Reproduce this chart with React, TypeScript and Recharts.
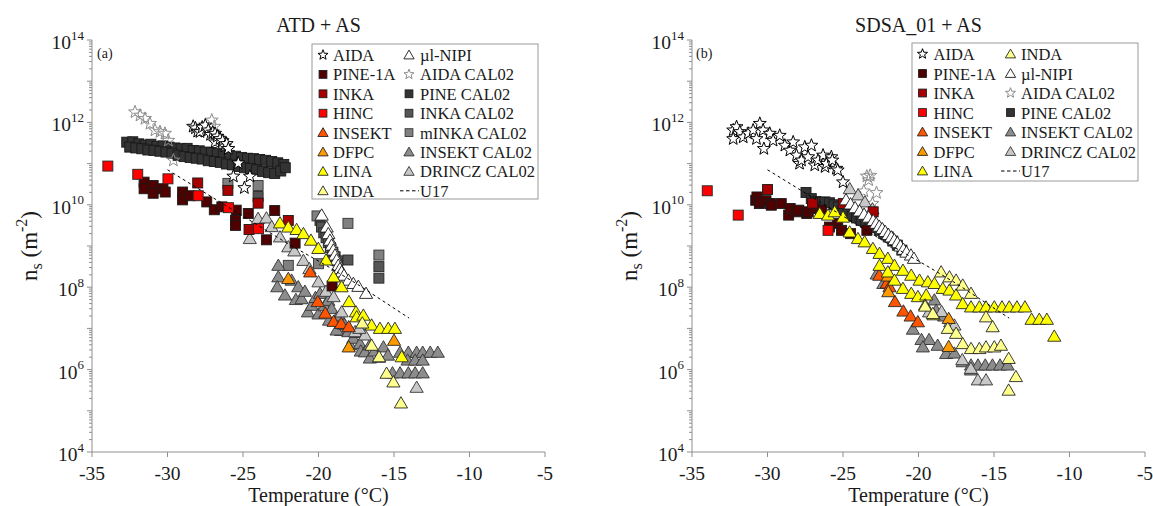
import React from 'react';
import { ScatterChart, Scatter, XAxis, YAxis } from 'recharts';

// [temperature (°C), log10(ns / m^-2)]
type P = [number, number];

// ---------------- Panel (a): ATD + AS ----------------
const aidaA: P[] = [[-28.3,11.90],[-28.15,11.86],[-28.0,11.78],[-27.85,11.77],[-27.7,11.88],[-27.5,11.93],[-27.3,11.81],[-27.15,11.70],[-27.0,11.76],[-26.85,11.73],[-26.85,11.52],[-26.7,11.66],[-26.52,11.60],[-26.35,11.55],[-26.2,11.42],[-26.08,11.48],[-25.97,11.36],[-25.31,11.01],[-25.64,10.69],[-24.91,10.41],[-24.54,10.69]];
const aidaCalA: P[] = [[-32.15,12.25],[-31.82,12.17],[-31.49,12.09],[-31.16,11.97],[-30.83,11.81],[-30.5,11.77],[-30.17,11.73],[-29.95,11.56],[-29.61,11.08],[-27.07,12.05],[-26.9,11.9],[-26.6,11.62]];
const pineCalA: P[] = [[-32.7,11.52],[-32.3,11.53],[-31.9,11.48],[-31.5,11.45],[-31.1,11.47],[-30.7,11.42],[-30.3,11.43],[-29.9,11.40],[-29.5,11.38],[-29.1,11.36],[-28.7,11.37],[-28.3,11.32],[-27.9,11.31],[-27.5,11.28],[-27.1,11.27],[-26.7,11.25],[-26.3,11.22],[-25.9,11.20],[-25.5,11.18],[-25.1,11.15],[-24.7,11.13],[-24.3,11.12],[-23.9,11.10],[-23.5,11.08],[-23.1,11.05],[-22.7,11.02],[-22.3,10.98],[-32.5,11.40],[-32.1,11.38],[-31.7,11.36],[-31.3,11.33],[-30.9,11.32],[-30.5,11.30],[-30.1,11.28],[-29.7,11.25],[-29.3,11.20],[-28.9,11.17],[-28.5,11.15],[-28.1,11.13],[-27.7,11.11],[-27.3,11.07],[-26.9,11.05],[-26.5,11.03],[-26.1,10.99],[-25.7,10.97],[-25.3,10.93],[-24.9,10.90],[-24.5,10.88],[-24.1,10.85],[-23.7,10.81],[-23.3,10.78],[-22.9,10.76],[-22.5,10.82],[-22.2,10.90]];
const inkaCalA: P[] = [[-24.0,10.20],[-19.9,9.62],[-19.8,9.46],[-19.65,9.32],[-19.5,9.20],[-19.35,9.08],[-19.2,8.96],[-19.05,8.85],[-18.9,8.74],[-18.75,8.64],[-18.05,8.66],[-16.0,8.50],[-16.0,8.22]];
const minkaCalA: P[] = [[-26.0,10.52],[-24.0,10.47],[-22.0,8.53],[-20.0,8.57],[-20.1,9.73],[-18.05,9.55],[-16.0,8.78]];
const pine1aA: P[] = [[-31.55,10.55],[-31.55,10.39],[-30.95,10.47],[-30.95,10.28],[-30.3,10.39],[-30.15,10.31],[-29.0,10.31],[-29.0,10.12],[-28.5,10.22],[-27.4,10.07],[-26.9,9.88],[-26.4,9.95],[-25.45,9.87],[-25.5,9.62],[-25.5,9.50],[-24.65,9.79],[-23.45,9.15],[-22.9,9.86],[-21.55,9.07],[-19.1,8.03]];
const inkaA: P[] = [[-28.0,10.53],[-26.0,10.35],[-24.0,10.04],[-22.0,9.62],[-24.6,9.40]];
const hincA: P[] = [[-33.95,10.94],[-31.97,10.74],[-29.97,10.63],[-27.97,10.22],[-25.96,9.93],[-23.97,9.42]];
const drinczCalA: P[] = [[-24.0,9.67],[-23.45,9.68],[-24.55,9.18],[-23.1,9.47],[-22.55,9.22],[-22.0,8.98],[-21.6,8.88],[-21.0,8.65],[-20.6,8.45],[-20.0,8.13],[-19.5,7.90],[-19.0,7.77],[-18.47,7.40],[-17.58,6.92],[-16.92,6.84],[-13.5,5.57],[-17.3,7.00]];
const insektCalA: P[] = [[-22.66,8.53],[-22.66,8.25],[-22.73,8.01],[-22.22,7.81],[-21.78,8.17],[-21.34,8.01],[-21.5,7.70],[-21.12,7.72],[-20.9,7.90],[-20.7,7.40],[-20.45,7.56],[-20.2,7.75],[-20.0,7.35],[-19.9,7.85],[-19.6,7.55],[-19.35,7.68],[-19.3,7.20],[-19.13,7.48],[-18.8,7.25],[-18.6,7.30],[-18.5,6.95],[-18.8,6.96],[-18.3,7.10],[-18.03,6.92],[-17.9,6.60],[-17.7,6.76],[-17.5,6.90],[-17.25,6.63],[-17.2,6.45],[-16.92,6.43],[-16.6,6.60],[-16.6,6.28],[-16.3,6.45],[-16.0,6.30],[-15.7,6.55],[-15.4,6.35],[-14.6,6.42],[-14.05,6.42],[-13.5,6.42],[-13.1,6.42],[-12.6,6.42],[-12.1,6.42],[-14.1,6.23],[-13.6,6.23],[-13.1,6.23],[-15.1,5.92],[-14.6,5.92],[-14.05,5.92],[-13.6,5.92],[-13.1,5.92]];
const nipiA: P[] = [[-19.79,9.75],[-19.46,9.46],[-19.35,9.30],[-19.24,9.14],[-19.13,9.02],[-19.02,8.90],[-18.91,8.78],[-18.8,8.66],[-18.69,8.53],[-18.58,8.45],[-18.47,8.37],[-18.31,8.29],[-18.02,8.17],[-17.69,8.09],[-17.36,8.02],[-16.85,7.85]];
const insektA: P[] = [[-20.55,8.37],[-20.05,7.65],[-19.55,7.37],[-19.0,7.17],[-18.5,7.12],[-18.0,7.04]];
const dfpcA: P[] = [[-22.0,8.21],[-15.0,6.71],[-18.0,6.55]];
const linaA: P[] = [[-22.55,9.56],[-22.0,9.46],[-21.45,9.40],[-21.0,9.30],[-20.5,9.14],[-20.01,8.94],[-19.5,8.66],[-19.0,8.25],[-18.47,8.01],[-17.98,7.65],[-17.52,7.40],[-17.47,7.28],[-17.03,7.32],[-16.48,7.08],[-15.93,7.00],[-15.38,7.00],[-14.94,7.00],[-14.49,6.31]];
const indaA: P[] = [[-17.1,7.13],[-16.48,6.59],[-15.99,6.31],[-15.49,5.91],[-15.04,5.70],[-14.54,5.19]];

// ---------------- Panel (b): SDSA_01 + AS ----------------
const aidaB: P[] = [[-32.27,11.81],[-32.05,11.89],[-31.83,11.77],[-32.27,11.60],[-31.61,11.64],[-31.28,11.73],[-30.95,11.81],[-30.51,11.97],[-30.73,11.60],[-30.24,11.36],[-30.29,11.81],[-29.85,11.73],[-29.63,11.56],[-29.19,11.68],[-28.85,11.44],[-28.52,11.32],[-28.3,11.52],[-28.08,11.20],[-27.88,11.00],[-27.75,11.08],[-27.53,11.40],[-27.31,11.16],[-27.09,11.44],[-26.87,10.96],[-26.65,11.08],[-26.32,11.20],[-26.19,10.92],[-26.1,11.00],[-25.77,11.16],[-25.71,11.08],[-25.44,10.88],[-25.35,10.84],[-25.0,10.55]];
const aidaCalB: P[] = [[-23.42,10.69],[-23.2,10.71],[-23.3,10.60],[-23.62,10.33],[-22.78,10.29],[-23.05,10.03]];
const pineCalB: P[] = [[-27.45,10.30],[-27.1,10.15],[-26.8,10.08],[-26.5,10.06],[-26.2,10.07],[-25.9,10.05],[-25.6,10.00],[-25.3,9.95],[-25.0,9.85],[-24.7,9.78],[-24.4,9.72],[-24.1,9.68],[-23.8,9.62],[-23.5,9.58],[-23.2,9.52],[-22.9,9.45],[-22.6,9.38],[-22.3,9.30],[-22.0,9.22],[-21.7,9.12],[-21.4,9.02],[-21.1,8.90]];
const insektCalB: P[] = [[-22.77,8.32],[-22.33,8.09],[-20.37,6.98],[-19.8,6.73],[-19.3,6.73],[-19.71,6.55],[-18.73,6.59],[-18.17,6.39],[-17.62,6.40],[-17.07,6.19],[-16.52,6.11],[-16.06,6.11],[-15.58,6.11],[-15.1,6.11],[-14.6,6.11],[-14.1,6.11],[-16.52,5.99],[-18.95,7.69],[-18.83,7.44],[-18.3,7.30]];
const drinczCalB: P[] = [[-24.55,10.39],[-24.0,10.24],[-23.55,10.07],[-23.05,9.90],[-19.3,7.40],[-18.47,7.41],[-17.9,7.16],[-17.62,7.08],[-17.1,6.24],[-16.53,6.03],[-16.07,5.75],[-15.53,5.75]];
const pine1aB: P[] = [[-30.78,10.11],[-30.7,10.19],[-30.54,10.03],[-30.5,10.07],[-30.1,10.10],[-29.81,10.03],[-29.75,9.99],[-29.09,10.03],[-28.6,9.75],[-28.5,9.91],[-28.08,9.83],[-27.93,9.87],[-27.4,9.79],[-27.3,9.83],[-26.9,9.91],[-26.5,9.83],[-26.43,9.87],[-25.9,9.46],[-25.35,9.55],[-25.1,9.38],[-24.5,9.30],[-23.42,9.38]];
const inkaB: P[] = [[-30.0,10.37],[-27.02,10.04],[-24.98,10.03],[-23.0,9.83]];
const hincB: P[] = [[-33.99,10.34],[-31.94,9.75],[-25.99,9.38]];
const nipiB: P[] = [[-24.8,10.12],[-24.5,10.02],[-24.2,9.93],[-23.9,9.85],[-23.6,9.77],[-23.3,9.70],[-23.0,9.62],[-22.8,9.55],[-22.6,9.48],[-22.4,9.42],[-22.2,9.35],[-22.0,9.28],[-21.8,9.22],[-21.6,9.15],[-21.4,9.08],[-21.2,9.00],[-21.0,8.92],[-20.8,8.85],[-20.5,8.78],[-20.3,8.70]];
const insektB: P[] = [[-22.6,8.29],[-22.1,8.10],[-21.92,8.01],[-21.56,7.65],[-21.0,7.42],[-20.52,7.30],[-20.04,7.16]];
const dfpcB: P[] = [[-22.03,8.27],[-22.0,7.89],[-18.0,7.24],[-18.0,6.56]];
const linaB: P[] = [[-26.54,9.79],[-25.99,9.75],[-25.55,9.83],[-25.0,9.70],[-24.56,9.34],[-24.01,9.18],[-23.57,9.10],[-23.02,8.94],[-22.58,8.82],[-22.03,8.70],[-21.59,8.53],[-21.03,8.41],[-20.48,8.29],[-19.93,8.17],[-19.38,8.13],[-18.94,8.09],[-18.39,7.97],[-17.95,7.93],[-17.51,7.81],[-17.07,7.60],[-16.52,7.52],[-15.97,7.52],[-15.53,7.52],[-14.98,7.52],[-14.47,7.52],[-13.99,7.52],[-13.48,7.52],[-12.95,7.52],[-12.51,7.22],[-12.0,7.22],[-11.5,7.22],[-11.01,6.81],[-22.58,8.53],[-22.03,8.37],[-21.59,8.17],[-21.03,7.97],[-20.48,7.85],[-20.04,7.77],[-19.49,7.81],[-19.56,7.57],[-19.0,7.33]];
const indaB: P[] = [[-18.5,8.37],[-17.95,8.25],[-17.51,8.17],[-17.07,8.05],[-16.52,7.85],[-15.53,7.28],[-15.09,7.04],[-19.56,7.54],[-19.05,7.36],[-18.06,7.00],[-17.51,6.88],[-17.07,6.63],[-16.52,6.51],[-15.97,6.51],[-15.53,6.55],[-14.98,6.55],[-14.54,6.59],[-14.03,6.27],[-13.55,5.83],[-14.03,5.50]];

// U17 parameterisation (dashed line, same in both panels)
const u17: P[] = [[-30.0,10.85],[-26.0,9.95],[-22.0,9.05],[-19.5,8.53],[-17.5,8.09],[-14.0,7.25]];

// ---------------- Axes ----------------
const X_TICKS = [-35, -30, -25, -20, -15, -10, -5];
const Y_DOMAIN: [number, number] = [1e4, 1e14];
const Y_LABEL_EXPS = [4, 6, 8, 10, 12, 14];
const Y_TICKS: number[] = [];
for (let e = 4; e < 14; e++) for (let m = 1; m <= 9; m++) Y_TICKS.push(m * Math.pow(10, e));
Y_TICKS.push(1e14);

const SERIF = "'Liberation Serif', 'Times New Roman', 'DejaVu Serif', serif";
const TXT: React.CSSProperties = { fontFamily: SERIF };
const AXIS_COLOR = '#8f8f8f';
const TEXT_COLOR = '#1a1a1a';

type Kind = 'star' | 'square' | 'tri' | 'line';
interface Sty { name: string; kind: Kind; fill: string; stroke: string }

const ST: Record<string, Sty> = {
  aida: { name: 'AIDA', kind: 'star', fill: '#ffffff', stroke: '#000000' },
  pine1a: { name: 'PINE-1A', kind: 'square', fill: '#4f0000', stroke: '#1a1a1a' },
  inka: { name: 'INKA', kind: 'square', fill: '#a80000', stroke: '#1a1a1a' },
  hinc: { name: 'HINC', kind: 'square', fill: '#ff0000', stroke: '#262626' },
  insekt: { name: 'INSEKT', kind: 'tri', fill: '#ff5500', stroke: '#262626' },
  dfpc: { name: 'DFPC', kind: 'tri', fill: '#ff9900', stroke: '#262626' },
  lina: { name: 'LINA', kind: 'tri', fill: '#ffff00', stroke: '#262626' },
  inda: { name: 'INDA', kind: 'tri', fill: '#ffff8c', stroke: '#262626' },
  nipi: { name: 'µl-NIPI', kind: 'tri', fill: '#ffffff', stroke: '#1a1a1a' },
  aidaCal: { name: 'AIDA CAL02', kind: 'star', fill: 'none', stroke: '#8c8c8c' },
  pineCal: { name: 'PINE CAL02', kind: 'square', fill: '#333333', stroke: '#1a1a1a' },
  inkaCal: { name: 'INKA CAL02', kind: 'square', fill: '#555555', stroke: '#262626' },
  minkaCal: { name: 'mINKA CAL02', kind: 'square', fill: '#808080', stroke: '#333333' },
  insektCal: { name: 'INSEKT CAL02', kind: 'tri', fill: '#8c8c8c', stroke: '#333333' },
  drinczCal: { name: 'DRINCZ CAL02', kind: 'tri', fill: '#c8c8c8', stroke: '#333333' },
  u17: { name: 'U17', kind: 'line', fill: 'none', stroke: '#000000' },
};

function starPath(x: number, y: number, R: number) {
  const r = R * 0.42;
  let d = '';
  for (let i = 0; i < 10; i++) {
    const a = -Math.PI / 2 + (i * Math.PI) / 5;
    const rad = i % 2 === 0 ? R : r;
    d += (i === 0 ? 'M' : 'L') + (x + rad * Math.cos(a)).toFixed(2) + ',' + (y + rad * Math.sin(a)).toFixed(2);
  }
  return d + 'Z';
}

function Glyph({ sty, x, y, s = 1 }: { sty: Sty; x: number; y: number; s?: number }) {
  if (sty.kind === 'square') {
    const h = 5 * s;
    return <rect x={x - h} y={y - h} width={2 * h} height={2 * h} fill={sty.fill} stroke={sty.stroke} strokeWidth={0.9} />;
  }
  if (sty.kind === 'tri') {
    const w = 6.6 * s, t = 6.3 * s, b = 5 * s;
    return <path d={`M${x},${y - t}L${x + w},${y + b}L${x - w},${y + b}Z`} fill={sty.fill} stroke={sty.stroke} strokeWidth={0.9} />;
  }
  if (sty.kind === 'star') {
    return <path d={starPath(x, y, 6.8 * s)} fill={sty.fill} stroke={sty.stroke} strokeWidth={1} />;
  }
  return <line x1={x - 9 * s} x2={x + 9 * s} y1={y} y2={y} stroke={sty.stroke} strokeWidth={1} strokeDasharray="3 2.5" />;
}

const shapeFor = (sty: Sty) => (props: any) => {
  const { cx, cy } = props;
  if (cx == null || cy == null) return <g />;
  return <Glyph sty={sty} x={cx} y={cy} />;
};
const noShape = () => <g />;

const toData = (pts: P[]) => pts.map(([t, lg]) => ({ t, ns: Math.pow(10, lg) }));

interface Series { sty: Sty; pts: P[] }

const seriesA: Series[] = [
  { sty: ST.pineCal, pts: pineCalA },
  { sty: ST.aidaCal, pts: aidaCalA },
  { sty: ST.inkaCal, pts: inkaCalA },
  { sty: ST.minkaCal, pts: minkaCalA },
  { sty: ST.insektCal, pts: insektCalA },
  { sty: ST.drinczCal, pts: drinczCalA },
  { sty: ST.pine1a, pts: pine1aA },
  { sty: ST.inka, pts: inkaA },
  { sty: ST.hinc, pts: hincA },
  { sty: ST.nipi, pts: nipiA },
  { sty: ST.insekt, pts: insektA },
  { sty: ST.dfpc, pts: dfpcA },
  { sty: ST.lina, pts: linaA },
  { sty: ST.inda, pts: indaA },
  { sty: ST.aida, pts: aidaA },
];
const seriesB: Series[] = [
  { sty: ST.pineCal, pts: pineCalB },
  { sty: ST.aidaCal, pts: aidaCalB },
  { sty: ST.insektCal, pts: insektCalB },
  { sty: ST.drinczCal, pts: drinczCalB },
  { sty: ST.pine1a, pts: pine1aB },
  { sty: ST.inka, pts: inkaB },
  { sty: ST.hinc, pts: hincB },
  { sty: ST.nipi, pts: nipiB },
  { sty: ST.insekt, pts: insektB },
  { sty: ST.dfpc, pts: dfpcB },
  { sty: ST.lina, pts: linaB },
  { sty: ST.inda, pts: indaB },
  { sty: ST.aida, pts: aidaB },
];

const legendA: [Sty[], Sty[]] = [
  [ST.aida, ST.pine1a, ST.inka, ST.hinc, ST.insekt, ST.dfpc, ST.lina, ST.inda],
  [ST.nipi, ST.aidaCal, ST.pineCal, ST.inkaCal, ST.minkaCal, ST.insektCal, ST.drinczCal, ST.u17],
];
const legendB: [Sty[], Sty[]] = [
  [ST.aida, ST.pine1a, ST.inka, ST.hinc, ST.insekt, ST.dfpc, ST.lina],
  [ST.inda, ST.nipi, ST.aidaCal, ST.pineCal, ST.insektCal, ST.drinczCal, ST.u17],
];

const PLOT_LEFT = 92;
const PLOT_TOP = 40;
const PLOT_BOTTOM = 452;
const CHART_H = 506;

function Panel({ left, width, marginRight, series }: { left: number; width: number; marginRight: number; series: Series[] }) {
  const plotRight = width - marginRight;
  const xTick = (p: any) => (
    <text x={p.x} y={PLOT_BOTTOM + 28} textAnchor="middle" style={TXT} fontSize={19.5} fill={TEXT_COLOR}>
      {p.payload.value}
    </text>
  );
  const yTickLeft = (p: any) => {
    const v = p.payload.value;
    const e = Math.log10(v);
    const re = Math.round(e);
    const isDec = Math.abs(e - re) < 1e-6;
    const len = isDec ? 5 : 3;
    return (
      <g>
        <line x1={PLOT_LEFT - len} x2={PLOT_LEFT} y1={p.y} y2={p.y} stroke={AXIS_COLOR} strokeWidth={1} />
        {isDec && Y_LABEL_EXPS.indexOf(re) >= 0 && (
          <text x={PLOT_LEFT - 8} y={p.y + 9} textAnchor="end" style={TXT} fontSize={19.5} fill={TEXT_COLOR}>
            10<tspan dy={-9.5} fontSize={13}>{re}</tspan>
          </text>
        )}
      </g>
    );
  };
  const yTickRight = (p: any) => {
    const v = p.payload.value;
    const e = Math.log10(v);
    const isDec = Math.abs(e - Math.round(e)) < 1e-6;
    const len = isDec ? 5 : 3;
    return <line x1={plotRight} x2={plotRight + len} y1={p.y} y2={p.y} stroke={AXIS_COLOR} strokeWidth={1} />;
  };
  return (
    <div style={{ position: 'absolute', left, top: 0, width, height: CHART_H }}>
      <ScatterChart width={width} height={CHART_H} margin={{ top: PLOT_TOP, right: marginRight, bottom: 24, left: 32 }}>
        <XAxis dataKey="t" type="number" domain={[-35, -5]} ticks={X_TICKS} interval={0} allowDataOverflow
          height={30} tickSize={5} tickLine={{ stroke: AXIS_COLOR }} axisLine={{ stroke: AXIS_COLOR }} tick={xTick} />
        <XAxis xAxisId="top" orientation="top" type="number" domain={[-35, -5]} ticks={X_TICKS} interval={0} allowDataOverflow
          height={0} tickSize={5} tickLine={{ stroke: AXIS_COLOR }} axisLine={{ stroke: AXIS_COLOR }} tick={noShape} />
        <YAxis dataKey="ns" type="number" scale="log" domain={Y_DOMAIN} ticks={Y_TICKS} interval={0} allowDataOverflow
          width={60} tickLine={false} axisLine={{ stroke: AXIS_COLOR }} tick={yTickLeft} />
        <YAxis yAxisId="r" orientation="right" type="number" scale="log" domain={Y_DOMAIN} ticks={Y_TICKS} interval={0} allowDataOverflow
          width={0} tickLine={false} axisLine={{ stroke: AXIS_COLOR }} tick={yTickRight} />
        {series.map((s, i) => (
          <Scatter key={i} name={s.sty.name} data={toData(s.pts)} dataKey="ns" shape={shapeFor(s.sty)} isAnimationActive={false} legendType="none" />
        ))}
        <Scatter name="U17" data={toData(u17)} dataKey="ns" shape={noShape}
          line={{ stroke: '#000000', strokeWidth: 1, strokeDasharray: '3 3' }} isAnimationActive={false} legendType="none" />
      </ScatterChart>
    </div>
  );
}

function LegendBox({ x, y, w, h, row0, rowH, m1, t1, m2, t2, cols }: {
  x: number; y: number; w: number; h: number; row0: number; rowH: number; m1: number; t1: number; m2: number; t2: number; cols: [Sty[], Sty[]];
}) {
  const rows: React.ReactNode[] = [];
  cols.forEach((col, ci) => {
    col.forEach((sty, ri) => {
      const cy = row0 + ri * rowH;
      const mx = ci === 0 ? m1 : m2;
      const tx = ci === 0 ? t1 : t2;
      rows.push(
        <g key={`${ci}-${ri}`}>
          {sty.kind === 'line'
            ? <line x1={tx - 20} x2={tx - 1} y1={cy} y2={cy} stroke="#000" strokeWidth={1} strokeDasharray="3.5 2.5" />
            : <Glyph sty={sty} x={mx} y={cy} s={0.78} />}
          <text x={tx} y={cy + 6} style={TXT} fontSize={16.5} fill={TEXT_COLOR}>{sty.name}</text>
        </g>
      );
    });
  });
  return (
    <g>
      <rect x={x} y={y} width={w} height={h} fill="#ffffff" stroke="#9a9a9a" strokeWidth={1} />
      {rows}
    </g>
  );
}

function YLabel({ x, y }: { x: number; y: number }) {
  return (
    <text transform={`translate(${x},${y}) rotate(-90)`} textAnchor="middle" style={TXT} fontSize={23} fill={TEXT_COLOR}>
      n<tspan fontSize={16} dy={5}>s</tspan><tspan dy={-5}> (m</tspan><tspan fontSize={16} dy={-10}>-2</tspan><tspan dy={10}>)</tspan>
    </text>
  );
}

export default function App() {
  return (
    <div style={{ position: 'absolute', left: 0, top: 0, width: 1153, height: 506, background: '#ffffff', overflow: 'hidden', fontFamily: SERIF }}>
      <Panel left={0} width={600} marginRight={55} series={seriesA} />
      <Panel left={600} width={553} marginRight={8} series={seriesB} />
      <svg width={1153} height={506} style={{ position: 'absolute', left: 0, top: 0, pointerEvents: 'none' }}>
        <text x={318.5} y={31.5} textAnchor="middle" style={TXT} fontSize={20} fill={TEXT_COLOR}>ATD + AS</text>
        <text x={918.5} y={31.5} textAnchor="middle" style={TXT} fontSize={20} fill={TEXT_COLOR}>SDSA_01 + AS</text>
        <text x={318.5} y={502} textAnchor="middle" style={TXT} fontSize={20} fill={TEXT_COLOR}>Temperature (°C)</text>
        <text x={918.5} y={502} textAnchor="middle" style={TXT} fontSize={20} fill={TEXT_COLOR}>Temperature (°C)</text>
        <YLabel x={37} y={246} />
        <YLabel x={637} y={246} />
        <text x={97} y={58} style={TXT} fontSize={14} fill={TEXT_COLOR}>(a)</text>
        <text x={696} y={58} style={TXT} fontSize={14} fill={TEXT_COLOR}>(b)</text>
        <LegendBox x={312} y={44} w={226} h={155} row0={55} rowH={19.4} m1={323} t1={333} m2={409} t2={420} cols={legendA} />
        <LegendBox x={912} y={43} w={226} h={138} row0={54} rowH={19.5} m1={922.5} t1={933.5} m2={1010.5} t2={1021} cols={legendB} />
      </svg>
    </div>
  );
}
